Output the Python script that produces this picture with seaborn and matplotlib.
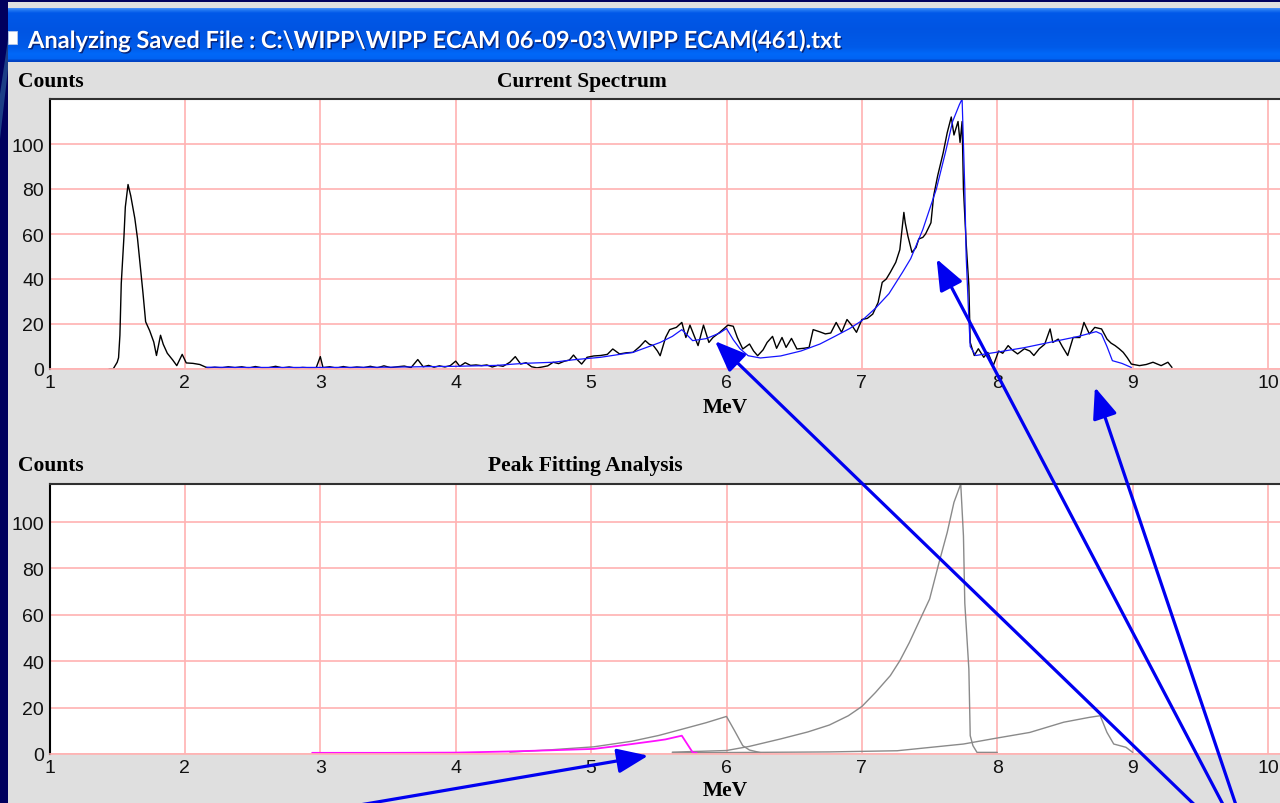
import numpy as np
import matplotlib
matplotlib.use("Agg")
import matplotlib.pyplot as plt
import matplotlib.patheffects as pe
from matplotlib.patches import Rectangle, ConnectionPatch, ArrowStyle
import seaborn as sns

# ---------------- spectrum data ----------------
# measured alpha spectrum (black trace)
spec_mev = [1.44, 1.47, 1.50, 1.51, 1.52, 1.53, 1.55, 1.56, 1.58, 1.60, 1.63, 1.65, 1.67, 1.69,
            1.71, 1.74, 1.77, 1.79, 1.82, 1.84, 1.87, 1.91, 1.94, 1.98, 2.01, 2.06, 2.11, 2.17,
            2.22, 2.27, 2.32, 2.37, 2.42, 2.47, 2.52, 2.57, 2.62, 2.67, 2.72, 2.77, 2.82, 2.87,
            2.92, 2.97, 3.00, 3.02, 3.07, 3.12, 3.17, 3.22, 3.27, 3.32, 3.37, 3.42, 3.47, 3.52,
            3.57, 3.62, 3.67, 3.72, 3.76, 3.80, 3.84, 3.88, 3.92, 3.96, 4.00, 4.03, 4.07, 4.11,
            4.15, 4.19, 4.23, 4.27, 4.31, 4.35, 4.40, 4.44, 4.48, 4.52, 4.56, 4.60, 4.64, 4.68,
            4.72, 4.76, 4.80, 4.84, 4.87, 4.90, 4.93, 4.97, 5.02, 5.07, 5.12, 5.16, 5.21, 5.26,
            5.31, 5.36, 5.40, 5.43, 5.46, 5.49, 5.51, 5.55, 5.58, 5.63, 5.67, 5.70, 5.73, 5.76,
            5.79, 5.83, 5.87, 5.90, 5.95, 6.01, 6.05, 6.08, 6.12, 6.17, 6.20, 6.23, 6.27, 6.30,
            6.34, 6.37, 6.41, 6.44, 6.48, 6.52, 6.57, 6.61, 6.64, 6.69, 6.73, 6.77, 6.81, 6.85,
            6.89, 6.93, 6.96, 7.00, 7.04, 7.08, 7.12, 7.15, 7.18, 7.21, 7.25, 7.28, 7.31, 7.32,
            7.34, 7.37, 7.40, 7.42, 7.45, 7.47, 7.51, 7.53, 7.56, 7.60, 7.63, 7.66, 7.68, 7.71,
            7.725, 7.74, 7.75, 7.77, 7.79, 7.80, 7.83, 7.86, 7.90, 7.93, 7.97, 8.01, 8.04, 8.08,
            8.11, 8.15, 8.20, 8.24, 8.27, 8.31, 8.35, 8.39, 8.41, 8.45, 8.48, 8.52, 8.56, 8.61,
            8.64, 8.68, 8.72, 8.77, 8.81, 8.84, 8.87, 8.90, 8.93, 8.96, 8.99, 9.05, 9.10, 9.15,
            9.21, 9.26, 9.29]
spec_counts = [0, 0, 3, 5, 15, 38, 59, 72, 82, 77, 67, 58, 46, 34,
               21, 17, 12, 6, 15, 11, 7, 4, 1.5, 6.5, 2.7, 2.5, 2.0, 0.4,
               0.8, 0.5, 1.0, 0.6, 1.0, 0.4, 1.1, 0.5, 0.6, 1.2, 0.5, 0.9, 0.4, 0.7,
               0.5, 0.6, 5.5, 0.6, 1.0, 0.4, 1.1, 0.5, 0.9, 0.6, 1.2, 0.5, 1.4, 0.6,
               1.0, 1.3, 0.6, 4.2, 1.0, 1.6, 0.8, 1.4, 0.9, 1.5, 3.5, 1.2, 2.8, 1.6,
               1.8, 1.5, 1.8, 0.9, 1.6, 1.2, 3.0, 5.5, 2.2, 2.8, 1.0, 0.5, 0.9, 1.4,
               3.0, 2.4, 3.4, 4.0, 6.2, 4.0, 2.2, 5.2, 5.8, 6.0, 6.5, 8.9, 6.7, 7.2,
               7.4, 10.0, 12.6, 11.0, 10.4, 8.0, 5.9, 14.0, 17.5, 18.5, 20.7, 14.0, 19.5, 15.0,
               10.4, 19.5, 11.8, 14.0, 16.3, 19.5, 19.0, 14.0, 8.9, 11.1, 8.0, 5.9, 8.5, 11.8,
               14.5, 9.2, 14.0, 9.6, 13.6, 8.9, 9.2, 9.6, 17.5, 16.5, 15.6, 16.0, 20.7, 16.3,
               22.0, 19.0, 16.3, 22.0, 22.5, 24.4, 29.6, 38.5, 40.0, 43.0, 47.4, 53.0, 69.6, 65.0,
               59.0, 51.8, 54.0, 57.8, 58.5, 60.0, 65.0, 77.0, 86.0, 96.0, 105.0, 112.0, 104.0, 110.0,
               100.7, 110.0, 80.0, 56.0, 37.0, 11.8, 6.0, 9.0, 5.2, 7.4, 1.5, 8.0, 7.0, 10.4,
               8.5, 6.7, 9.0, 8.0, 6.0, 9.0, 11.0, 17.8, 11.8, 13.3, 10.0, 6.0, 14.0, 14.0,
               20.7, 15.6, 18.5, 17.8, 13.3, 11.5, 10.4, 9.0, 7.4, 5.0, 2.2, 1.5, 2.0, 3.0,
               1.5, 3.0, 0.7]

# total fitted spectrum (blue trace)
fit_mev = [2.16, 2.5, 3.0, 3.5, 4.0, 4.3, 4.5, 4.72, 4.87, 5.07, 5.31, 5.51, 5.6, 5.67,
           5.75, 5.85, 5.95, 6.0, 6.05, 6.1, 6.16, 6.25, 6.4, 6.55, 6.69, 6.8, 6.91, 7.0,
           7.1, 7.2, 7.3, 7.36, 7.45, 7.55, 7.62, 7.67, 7.72, 7.74, 7.76, 7.77, 7.79, 7.80,
           7.84, 8.0, 8.2, 8.4, 8.6, 8.73, 8.77, 8.81, 8.85, 8.92, 8.99]
fit_counts = [0.8, 0.7, 0.7, 0.8, 1.2, 1.6, 2.5, 3.0, 4.1, 5.2, 7.4, 11.8, 14.5, 17.5,
              12.6, 13.5, 16.0, 18.0, 13.0, 9.0, 5.9, 4.9, 5.8, 8.0, 11.1, 14.5, 18.0, 21.5,
              27.0, 33.5, 43.0, 49.0, 62.0, 80.0, 97.0, 110.0, 117.5, 120.0, 80.0, 50.0, 22.0, 10.0,
              6.0, 7.5, 9.5, 12.0, 14.5, 16.6, 15.5, 10.0, 3.7, 2.5, 0.7]

# individual fitted peaks (grey traces) and the selected peak (magenta)
peak6_mev = [4.40, 4.70, 5.02, 5.30, 5.50, 5.66, 5.85, 6.00, 6.06, 6.12, 6.17, 6.25]
peak6_counts = [0.8, 1.8, 3.1, 5.5, 8.0, 10.5, 13.5, 16.2, 10.0, 3.6, 1.7, 0.6]

peak77_mev = [5.60, 6.00, 6.17, 6.40, 6.60, 6.76, 6.90, 7.00, 7.10, 7.21, 7.28, 7.35, 7.42,
              7.50, 7.57, 7.63, 7.68, 7.73, 7.75, 7.76, 7.79, 7.80, 7.82, 7.85, 8.00]
peak77_counts = [0.8, 1.5, 3.3, 6.5, 9.5, 12.5, 16.5, 20.5, 26.5, 33.8, 40.2, 48.0, 56.8,
                 66.8, 82.6, 95.5, 108.5, 116.4, 94.0, 65.0, 36.6, 7.9, 3.6, 0.7, 0.7]

peak87_mev = [5.60, 6.50, 6.76, 7.26, 7.75, 7.99, 8.24, 8.49, 8.68, 8.76, 8.81, 8.86, 8.95, 9.00]
peak87_counts = [0.5, 0.8, 0.9, 1.4, 4.3, 6.8, 9.3, 13.7, 15.8, 16.5, 9.3, 4.3, 2.9, 0.7]

sel_mev = [2.94, 3.50, 4.00, 4.40, 4.70, 5.02, 5.20, 5.48, 5.55, 5.67, 5.75, 5.78]
sel_counts = [0.5, 0.5, 0.6, 1.1, 1.6, 2.2, 3.5, 5.7, 6.3, 7.9, 0.7, 0.5]

x_ticks = [1, 2, 3, 4, 5, 6, 7, 8, 9, 10]
y_ticks = [0, 20, 40, 60, 80, 100]

window_title = "Analyzing Saved File : C:\\WIPP\\WIPP ECAM 06-09-03\\WIPP ECAM(461).txt"

# ---------------- figure ----------------
W, H, DPI = 1280, 804, 100
sns.set_style("white")
plt.rcParams['font.family'] = ['Liberation Sans', 'DejaVu Sans']

PINK = '#FFB2B2'
PANEL = '#DFDFDF'
NAVY = '#00005E'

fig = plt.figure(figsize=(W / DPI, H / DPI), dpi=DPI)
fig.patch.set_facecolor(NAVY)


def px_box(x0, y0, x1, y1):
    return [x0 / W, 1 - y1 / H, (x1 - x0) / W, (y1 - y0) / H]


# window chrome drawn in pixel space (y grows downward)
bg = fig.add_axes([0, 0, 1, 1], zorder=-10)
bg.set_xlim(0, W)
bg.set_ylim(H, 0)
bg.axis('off')
bg.add_patch(Rectangle((8, 3), W - 8, H - 3, color=PANEL, lw=0))

# slide swoosh on the left edge
bg.fill([0, 8, 8, 0], [0, 0, 70, 140], color='#1C3E86', lw=0)
bg.fill([0, 8, 8, 0], [0, 0, 40, 95], color=NAVY, lw=0)

# title bar gradient
stops_y = [9, 11, 14, 30, 48, 55, 60, 61, 63]
stops_c = ['#4A90F8', '#2277F2', '#0058E8', '#0054E2', '#005AE8', '#0068F8', '#0062F2', '#0048CC', '#0040C0']
stops_rgb = np.array([matplotlib.colors.to_rgb(c) for c in stops_c])
for row in range(9, 63):
    rgb = [np.interp(row + 0.5, stops_y, stops_rgb[:, k]) for k in range(3)]
    bg.add_patch(Rectangle((8, row), W - 8, 1.05, color=rgb, lw=0))
bg.add_patch(Rectangle((8, 32), 9, 13, facecolor='white', edgecolor='#B8C8E8', lw=0.6))
bg.text(28, 49, window_title, color='white', fontsize=17, fontweight='bold',
        family=['Lato', 'DejaVu Sans'], ha='left', va='baseline',
        path_effects=[pe.withSimplePatchShadow(offset=(1, -1), shadow_rgbFace='#0A1E6A', alpha=0.9)])

serif = dict(family=['Liberation Serif', 'DejaVu Serif'], fontweight='bold', fontsize=15.5,
             color='black', va='baseline')
bg.text(18, 87, 'Counts', ha='left', **serif)
bg.text(582, 87, 'Current Spectrum', ha='center', **serif)
bg.text(725, 413, 'MeV', ha='center', **serif)
bg.text(18, 471.5, 'Counts', ha='left', **serif)
bg.text(585, 471.5, 'Peak Fitting Analysis', ha='center', **serif)
bg.text(725, 796.5, 'MeV', ha='center', **serif)

# axes extend past the right edge of the window (range 1..11 MeV)
ax_top = fig.add_axes(px_box(49.5, 100, 1403.5, 370))
ax_bot = fig.add_axes(px_box(49.5, 485, 1403.5, 755))


def style_axes(ax, ymax):
    ax.set_facecolor('white')
    ax.set_xlim(1, 11)
    ax.set_ylim(0, ymax)
    ax.set_xticks(x_ticks)
    ax.set_yticks(y_ticks)
    ax.grid(True, color=PINK, lw=1.2)
    ax.set_axisbelow(True)
    ax.tick_params(direction='in', length=9, width=1.4, color='black',
                   labelsize=14, labelcolor='#111111')
    ax.tick_params(axis='x', pad=3.5)
    ax.tick_params(axis='y', pad=4)
    ax.spines['left'].set_color('black')
    ax.spines['left'].set_linewidth(1.5)
    ax.spines['top'].set_color('#303030')
    ax.spines['top'].set_linewidth(1.5)
    ax.spines['bottom'].set_color(PINK)
    ax.spines['bottom'].set_linewidth(1.2)
    ax.spines['right'].set_visible(False)
    ax.set_xlabel('')
    ax.set_ylabel('')


line_kw = dict(estimator=None, sort=False, legend=False)
sns.lineplot(x=spec_mev, y=spec_counts, ax=ax_top, color='black', linewidth=1.0, **line_kw)
sns.lineplot(x=fit_mev, y=fit_counts, ax=ax_top, color='#1414FF', linewidth=0.9, **line_kw)
style_axes(ax_top, 120)

for xs, ys in [(peak6_mev, peak6_counts), (peak77_mev, peak77_counts), (peak87_mev, peak87_counts)]:
    sns.lineplot(x=xs, y=ys, ax=ax_bot, color='#8A8A8A', linewidth=1.0, **line_kw)
sns.lineplot(x=sel_mev, y=sel_counts, ax=ax_bot, color='#FF10FF', linewidth=1.3, **line_kw)
style_axes(ax_bot, 116.4)

# pointer arrows laid over the window; tails start below the bottom edge
arrow_style = ArrowStyle('-|>', head_length=0.95, head_width=0.38)
pointers = [
    ((1204, 815), ax_top, (5.915, 12.4)),
    ((1228, 815), ax_top, (7.552, 48.9)),
    ((1239, 815), ax_top, (8.721, -8.1)),
    ((307, 815), ax_bot, (5.422, -0.7)),
]
for tail, ax, head in pointers:
    con = ConnectionPatch(xyA=tail, coordsA=bg.transData, xyB=head, coordsB=ax.transData,
                          arrowstyle=arrow_style, mutation_scale=20, color='#0000F0',
                          lw=2.3, zorder=30)
    fig.add_artist(con)

fig.savefig('out.png', dpi=DPI, facecolor=fig.get_facecolor())
